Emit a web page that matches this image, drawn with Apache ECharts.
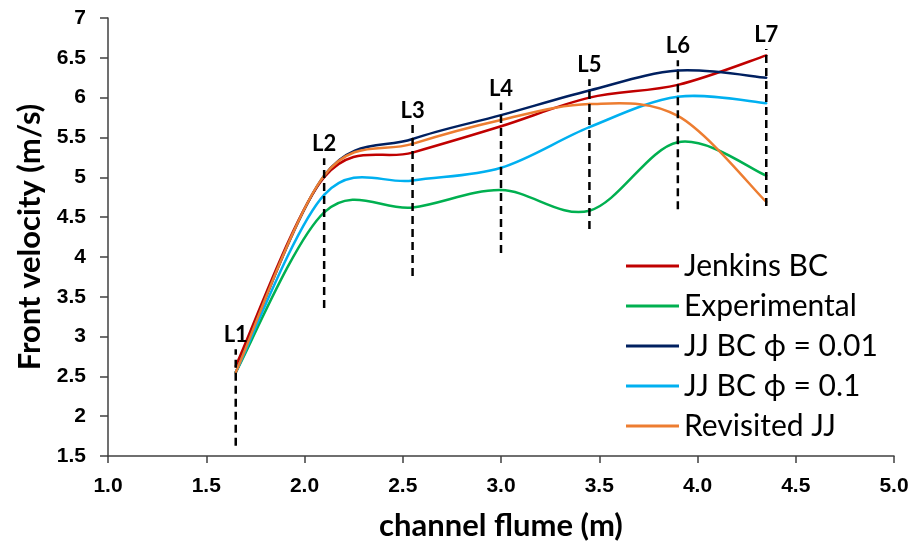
<!DOCTYPE html>
<html><head><meta charset="utf-8">
<script src="https://cdn.jsdelivr.net/npm/echarts@6/dist/echarts.min.js"></script>
<style>html,body{margin:0;padding:0;background:#fff}#c{width:916px;height:546px}</style>
</head><body><div id="c"></div>
<script>
// Positions of the measuring stations L1..L7 (m)
const stationNames = ['L1','L2','L3','L4','L5','L6','L7'];
const stationX = [1.65, 2.1, 2.55, 3.0, 3.45, 3.9, 4.35];
const stationBottom = [1.63, 3.36, 3.76, 4.05, 4.35, 4.6, 4.64];
const stationTop = [2.84, 5.24, 5.66, 5.94, 6.23, 6.47, 6.61];

// Front velocity (m/s) at each station
const jenkinsBC    = [2.63, 5.00, 5.31, 5.64, 6.00, 6.16, 6.53];
const experimental = [2.55, 4.56, 4.62, 4.84, 4.58, 5.44, 5.02];
const jjBC001      = [2.55, 5.02, 5.48, 5.78, 6.09, 6.34, 6.25];
const jjBC01       = [2.55, 4.78, 4.96, 5.12, 5.63, 6.01, 5.93];
const revisitedJJ  = [2.55, 5.02, 5.42, 5.72, 5.92, 5.77, 4.69];

const seriesNames = ['Jenkins BC','Experimental','JJ BC \u03d5 = 0.01','JJ BC \u03d5 = 0.1','Revisited JJ'];
const seriesColors = ['#C00000','#00B050','#002060','#00B0F0','#ED7D31'];
const seriesValues = [jenkinsBC, experimental, jjBC001, jjBC01, revisitedJJ];

// Smoothed line (Catmull-Rom style, as in spreadsheet "smoothed line") drawn via the chart's coordinate system
function smoothRenderer(vals, color) {
  return function (params, api) {
    const n = vals.length;
    const i = params.dataIndex;
    if (i >= n - 1) return null;
    const P = k => api.coord([stationX[Math.max(0, Math.min(n - 1, k))], vals[Math.max(0, Math.min(n - 1, k))]]);
    const p0 = P(i - 1), p1 = P(i), p2 = P(i + 1), p3 = P(i + 2);
    const t = 1 / 6;
    return {
      type: 'bezierCurve',
      shape: {
        x1: p1[0], y1: p1[1], x2: p2[0], y2: p2[1],
        cpx1: p1[0] + (p2[0] - p0[0]) * t, cpy1: p1[1] + (p2[1] - p0[1]) * t,
        cpx2: p2[0] - (p3[0] - p1[0]) * t, cpy2: p2[1] - (p3[1] - p1[1]) * t
      },
      style: { stroke: color, lineWidth: 2.5, fill: null, lineCap: 'round' }
    };
  };
}

const series = [];
seriesValues.forEach((vals, i) => {
  series.push({
    name: seriesNames[i], type: 'custom', z: 3,
    renderItem: smoothRenderer(vals, seriesColors[i]),
    encode: { x: 0, y: 1 },
    data: vals.map((v, k) => [stationX[k], v]),
    itemStyle: { color: seriesColors[i] }
  });
});
stationX.forEach((x, k) => {
  series.push({
    name: stationNames[k], type: 'line', silent: true, z: 4,
    symbol: 'circle', symbolSize: 0.01, showSymbol: true,
    itemStyle: { color: 'rgba(0,0,0,0)' },
    lineStyle: { color: '#000', width: 2.5, type: [8, 5] },
    data: [
      [x, stationBottom[k]],
      { value: [x, stationTop[k]],
        label: { show: true, position: 'top', distance: 3, formatter: stationNames[k],
                 fontFamily: 'Lato', fontWeight: 'bold', fontSize: 22, color: '#000' } }
    ]
  });
});

const chart = echarts.init(document.getElementById('c'));
chart.setOption({
  animation: false,
  grid: { left: 108, right: 22, top: 18, bottom: 88 },
  legend: {
    data: seriesNames, orient: 'vertical', left: 626, top: 251, padding: 0,
    icon: 'rect', itemWidth: 53, itemHeight: 3, itemGap: 10,
    textStyle: { fontFamily: 'Lato', fontSize: 30, color: '#000', lineHeight: 30 }
  },
  xAxis: {
    type: 'value', min: 1, max: 5, interval: 0.5,
    name: 'channel flume (m)', nameLocation: 'middle', nameGap: 54,
    nameTextStyle: { fontFamily: 'Lato', fontWeight: 'bold', fontSize: 31, color: '#000' },
    axisLine: { show: true, lineStyle: { color: '#404040', width: 1.5 } },
    axisTick: { show: true, length: 7, lineStyle: { color: '#404040', width: 1.5 } },
    axisLabel: { formatter: v => v.toFixed(1), fontFamily: 'Liberation Sans', fontWeight: 'bold', fontSize: 21, color: '#000', margin: 20 },
    splitLine: { show: false }
  },
  yAxis: {
    type: 'value', min: 1.5, max: 7, interval: 0.5,
    name: 'Front velocity (m/s)', nameLocation: 'middle', nameGap: 60,
    nameTextStyle: { fontFamily: 'Lato', fontWeight: 'bold', fontSize: 31, color: '#000' },
    axisLine: { show: true, lineStyle: { color: '#404040', width: 1.5 } },
    axisTick: { show: true, length: 8, lineStyle: { color: '#404040', width: 1.5 } },
    axisLabel: { fontFamily: 'Liberation Sans', fontWeight: 'bold', fontSize: 21, color: '#000', margin: 22 },
    splitLine: { show: false }
  },
  series: series
});
</script>
</body></html>
